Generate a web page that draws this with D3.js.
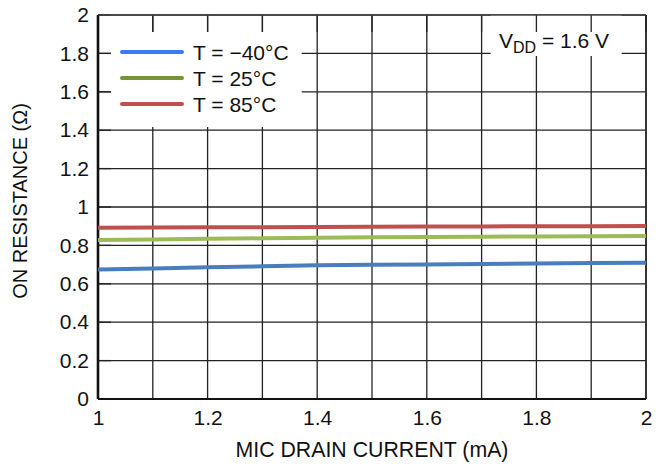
<!DOCTYPE html>
<html>
<head>
<meta charset="utf-8">
<script src="https://cdn.jsdelivr.net/npm/d3@7"></script>
<style>
  body { margin: 0; background: #fff; }
  svg text { font-family: "Liberation Sans", Arial, sans-serif; fill: #111; }
</style>
</head>
<body>
<svg id="chart"></svg>
<script>
// Data
const current = [1.0, 1.1, 1.2, 1.3, 1.4, 1.5, 1.6, 1.7, 1.8, 1.9, 2.0]; // mA
const rMinus40 = [0.675, 0.680, 0.686, 0.691, 0.696, 0.699, 0.701, 0.703, 0.706, 0.708, 0.710];
const r25 = [0.828, 0.831, 0.834, 0.837, 0.840, 0.842, 0.844, 0.845, 0.847, 0.848, 0.849];
const r85 = [0.892, 0.893, 0.894, 0.895, 0.896, 0.897, 0.898, 0.899, 0.900, 0.900, 0.901];
const seriesNames = ["T = \u221240\u00B0C", "T = 25\u00B0C", "T = 85\u00B0C"];
const xTicks = [1, 1.2, 1.4, 1.6, 1.8, 2];
const yTicks = [0, 0.2, 0.4, 0.6, 0.8, 1, 1.2, 1.4, 1.6, 1.8, 2];
const xGrid = [1, 1.1, 1.2, 1.3, 1.4, 1.5, 1.6, 1.7, 1.8, 1.9, 2];

const W = 663, H = 466;
const margin = { top: 15, right: 17, bottom: 67, left: 98 };
const width = W - margin.left - margin.right;
const height = H - margin.top - margin.bottom;

const svg = d3.select("#chart").attr("width", W).attr("height", H);
const g = svg.append("g").attr("transform", `translate(${margin.left},${margin.top})`);

const x = d3.scaleLinear().domain([1, 2]).range([0, width]);
const y = d3.scaleLinear().domain([0, 2]).range([height, 0]);

// grid
g.selectAll(".vgrid").data(xGrid).enter().append("line")
    .attr("x1", d => x(d)).attr("x2", d => x(d))
    .attr("y1", 0).attr("y2", height)
    .attr("stroke", "#222").attr("stroke-width", 1.3);
g.selectAll(".hgrid").data(yTicks).enter().append("line")
    .attr("x1", 0).attr("x2", width)
    .attr("y1", d => y(d)).attr("y2", d => y(d))
    .attr("stroke", "#222").attr("stroke-width", 1.3);

// white boxes behind legend and annotation
g.append("rect").attr("x", 12.7).attr("y", 17).attr("width", 191).attr("height", 95).attr("fill", "#fff");
g.append("rect").attr("x", 392.7).attr("y", 0).attr("width", 131).attr("height", 41).attr("fill", "#fff");

// inward ticks
g.selectAll(".ttick").data(xGrid).enter().append("line")
    .attr("x1", d => x(d)).attr("x2", d => x(d))
    .attr("y1", 0).attr("y2", 17)
    .attr("stroke", "#222").attr("stroke-width", 1.3);
g.selectAll(".ltick").data(yTicks).enter().append("line")
    .attr("x1", 0).attr("x2", 13)
    .attr("y1", d => y(d)).attr("y2", d => y(d))
    .attr("stroke", "#222").attr("stroke-width", 1.3);

// frame
g.append("line").attr("x1", 0).attr("x2", width).attr("y1", 0).attr("y2", 0)
    .attr("stroke", "#444").attr("stroke-width", 1.5);
g.append("line").attr("x1", width).attr("x2", width).attr("y1", 0).attr("y2", height)
    .attr("stroke", "#222").attr("stroke-width", 1.5);
g.append("line").attr("x1", 0).attr("x2", width).attr("y1", height).attr("y2", height)
    .attr("stroke", "#111").attr("stroke-width", 2.2);
g.append("line").attr("x1", 0).attr("x2", 0).attr("y1", 0).attr("y2", height)
    .attr("stroke", "#111").attr("stroke-width", 2.6);

// axes labels
const xAxis = g.append("g").attr("transform", `translate(0,${height})`)
    .call(d3.axisBottom(x).tickValues(xTicks).tickSize(0).tickPadding(11).tickFormat(d3.format("")));
const yAxis = g.append("g")
    .call(d3.axisLeft(y).tickValues(yTicks).tickSize(0).tickPadding(9).tickFormat(d3.format("")));
[xAxis, yAxis].forEach(a => {
  a.select(".domain").remove();
  a.selectAll("text").style("font-size", "21px").style("fill", "#111")
    .style("font-family", '"Liberation Sans", Arial, sans-serif');
});

// series
const series = [
  { name: seriesNames[0], values: rMinus40, color: "#4a7dbd", legendColor: "#3a7af2" },
  { name: seriesNames[1], values: r25, color: "#9bbb59", legendColor: "#76923c" },
  { name: seriesNames[2], values: r85, color: "#c0504d", legendColor: "#c0504d" }
];
const line = d3.line().x((d, i) => x(current[i])).y(d => y(d));
g.selectAll(".series").data(series).enter().append("path")
    .attr("d", d => line(d.values))
    .attr("fill", "none")
    .attr("stroke", d => d.color)
    .attr("stroke-width", 4);

// legend
const lg = g.append("g").attr("transform", "translate(24,37)");
const rows = lg.selectAll(".row").data(series).enter().append("g")
    .attr("transform", (d, i) => `translate(0,${i * 26})`);
rows.append("line").attr("x1", 0).attr("x2", 60).attr("y1", 0).attr("y2", 0)
    .attr("stroke", d => d.legendColor).attr("stroke-width", 4).attr("stroke-linecap", "round");
rows.append("text").attr("x", 71).attr("y", 7.5).style("font-size", "21px").text(d => d.name);

// VDD annotation
const vdd = g.append("text").attr("x", 401).attr("y", 32.5).style("font-size", "21px");
vdd.append("tspan").text("V");
vdd.append("tspan").attr("dy", 5.5).style("font-size", "16px").text("DD");
vdd.append("tspan").attr("dy", -5.5).text(" = 1.6 V");

// axis titles
svg.append("text")
    .attr("x", margin.left + width / 2).attr("y", 456.5)
    .attr("text-anchor", "middle").style("font-size", "21.3px")
    .text("MIC DRAIN CURRENT (mA)");
svg.append("text")
    .attr("transform", "translate(27,201) rotate(-90)")
    .attr("text-anchor", "middle").style("font-size", "20px")
    .text("ON RESISTANCE (\u03A9)");
</script>
</body>
</html>
